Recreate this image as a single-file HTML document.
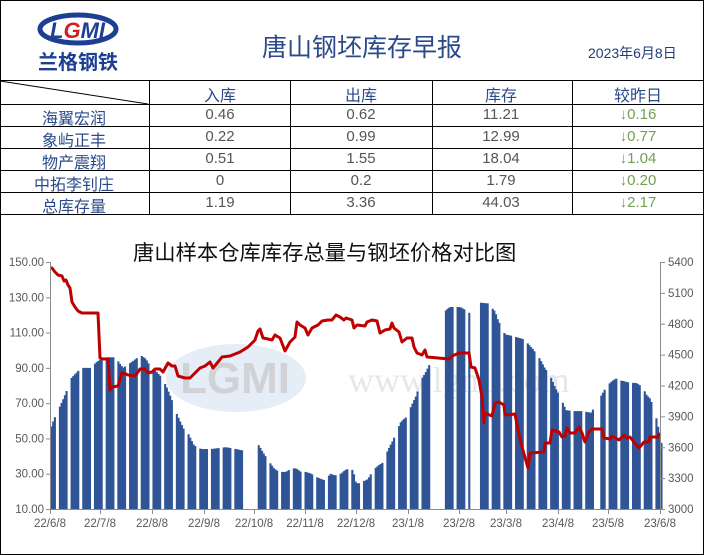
<!DOCTYPE html>
<html><head><meta charset="utf-8"><style>
body{margin:0;background:#fff;}
#w{position:relative;width:704px;height:555px;overflow:hidden;font-family:"Liberation Sans","Noto Sans CJK SC",sans-serif;}
.t{position:absolute;white-space:nowrap;}
</style></head><body><div id="w">
<svg width="704" height="555" style="position:absolute;left:0;top:0" xmlns="http://www.w3.org/2000/svg">
<rect x="0.5" y="0.5" width="703" height="554" fill="none" stroke="#000"/>
<g stroke="#000" stroke-width="1">
<line x1="0" y1="80.5" x2="704" y2="80.5"/>
<line x1="0" y1="104.5" x2="704" y2="104.5"/>
<line x1="0" y1="126.5" x2="704" y2="126.5"/>
<line x1="0" y1="148.5" x2="704" y2="148.5"/>
<line x1="0" y1="170.5" x2="704" y2="170.5"/>
<line x1="0" y1="192.5" x2="704" y2="192.5"/>
<line x1="0" y1="214.5" x2="704" y2="214.5"/>
<line x1="149.5" y1="80" x2="149.5" y2="214"/>
<line x1="290.5" y1="80" x2="290.5" y2="214"/>
<line x1="432.5" y1="80" x2="432.5" y2="214"/>
<line x1="572.5" y1="80" x2="572.5" y2="214"/>
<line x1="0" y1="81" x2="148" y2="104"/>
</g>
<ellipse cx="78" cy="29" rx="38" ry="14" fill="none" stroke="#1c3f94" stroke-width="5"/>
<text x="50" y="38" font-family="Liberation Sans" font-weight="bold" font-size="22" fill="#1c3f94" font-style="italic">L<tspan fill="#d02020">G</tspan>MI</text>
<ellipse cx="236" cy="378" rx="70" ry="34" fill="#d4e1f2" opacity="0.6"/>
<text x="180" y="393" font-family="Liberation Sans" font-weight="bold" font-size="44" fill="#c8c8c8" opacity="0.7">LGMI</text>
<text x="348" y="392" font-family="Liberation Serif" font-size="36" fill="#ddd" opacity="0.7">www.lgmi.com</text>
<g id="bars" fill="#2f5597"></g>
<polyline id="line" fill="none" stroke="#c00000" stroke-width="3" stroke-linejoin="round"/>
<g stroke="#8c8c8c" stroke-width="1">
<line x1="50.5" y1="262" x2="50.5" y2="509"/>
<line x1="660.5" y1="262" x2="660.5" y2="509"/>
<line x1="50" y1="509.5" x2="661" y2="509.5"/>
<g id="ticks"></g>
</g>
<g id="lbl" font-family="Liberation Sans" font-size="11.5" fill="#595959"></g>
</svg>
<div class="t" style="left:38px;top:46px;font-size:20px;font-weight:bold;color:#1c3f94;">兰格钢铁</div>
<div class="t" style="left:262px;top:28px;font-size:25px;color:#2a4a8a;">唐山钢坯库存早报</div>
<div class="t" style="left:588px;top:43px;font-size:14px;color:#1f3d7a;">2023年6月8日</div>
<div id="tb"></div>
<div class="t" style="left:133px;top:236px;font-size:21.3px;color:#111;">唐山样本仓库库存总量与钢坯价格对比图</div>
</div>
<script>
var rows=[["海翼宏润","0.46","0.62","11.21","0.16"],["象屿正丰","0.22","0.99","12.99","0.77"],["物产震翔","0.51","1.55","18.04","1.04"],["中拓李钊庄","0","0.2","1.79","0.20"],["总库存量","1.19","3.36","44.03","2.17"]];
var cx=[74,220,361,501,638],ys=[104,126,148,170,192],h='';
var hd=["入库","出库","库存","较昨日"];
for(var i=0;i<4;i++)h+='<div class="t" style="left:'+(cx[i+1]-50)+'px;width:100px;text-align:center;top:82px;font-size:16px;color:#2a4a8a">'+hd[i]+'</div>';
rows.forEach(function(r,j){
 h+='<div class="t" style="left:'+(cx[0]-60)+'px;width:120px;text-align:center;top:'+(ys[j]+1)+'px;font-size:16px;color:#2a4a8a">'+r[0]+'</div>';
 for(var i=1;i<4;i++)h+='<div class="t" style="left:'+(cx[i]-50)+'px;width:100px;text-align:center;top:'+(ys[j]+2)+'px;font-size:15px;color:#555">'+r[i]+'</div>';
 h+='<div class="t" style="left:'+(cx[4]-50)+'px;width:100px;text-align:center;top:'+(ys[j]+2)+'px;font-size:15px;color:#70a050">↓'+r[4]+'</div>';
});
document.getElementById('tb').innerHTML=h;
var inv=[[50,56],[53,61],[58,67],[62,72],[65,76],[70,84],[75,87],[80,90],[90,90],[95,93],[100,95],[105,96],[115,96],[118,93],[122,90],[130,93],[137,96],[140,97],[145,95],[150,90],[155,88],[160,85],[165,80],[170,73],[175,65],[178,61],[183,55],[187,53],[193,46],[200,44],[210,44],[225,45],[235,44],[243,43],[254,48],[258,46],[262,42],[268,37],[273,33],[278,31],[285,31],[290,33],[295,33],[300,31],[305,31],[310,30],[316,28],[320,27],[325,26],[329,30],[334,29],[340,30],[344,32],[348,33],[352,32],[355,24.6],[359,24.6],[362,25.5],[367,27],[372,32],[377,34.5],[382,36.4],[387,43.5],[392,49],[400,59.5],[405,62],[410,68],[415,74],[420,83],[425,87.8],[429,92.6],[445,122.8],[449,124.5],[459,124.5],[467,122],[475,117],[479,127],[487,126.5],[494,122],[497,117],[504,109],[512,108],[524,106],[525,105],[532,100.5],[539,95],[544,89.6],[549,86],[554,79],[560,72.6],[565,66],[572,65.5],[582,65.5],[590,64.5],[601,75],[605,79],[610,82],[615,84],[619,83],[629,81.5],[635,81.5],[642,79],[645,75],[649,72.6],[654,65.5],[659,51],[661,46]];
function iv(x){for(var i=1;i<inv.length;i++){if(x<=inv[i][0]){var a=inv[i-1],b=inv[i];return a[1]+(b[1]-a[1])*(x-a[0])/(b[0]-a[0]);}}return 46;}
var bh='';
for(var d=0;d<=365;d++){var wd=(3+d)%7;if(wd==0||wd==6)continue;var x=50.5+d*1.671;
 if((x>244&&x<254)||(x>430&&x<444)||(x>594&&x<600)||(x>469&&x<476))continue;
 var v=iv(x),y=262+(150-v)/140*247;bh+='<rect x="'+x.toFixed(2)+'" y="'+y.toFixed(1)+'" width="2.1" height="'+(509-y).toFixed(1)+'"/>';}
document.getElementById('bars').innerHTML=bh;
var ln="50,268 52,268 55,272 58,275 62,276 64,281 66,280 68,285 70,288 72,302 75,307 78,311 82,313 98,313 100,358 103,359 108,359 110,390 112,387 118,386 122,373 126,374 128,375 135,376 138,372 140,369 145,369 148,373 152,372 155,369 160,369 163,372 168,363 172,366 175,366 178,376 185,378 190,378 195,373 200,368 205,366 210,362 213,368 218,362 222,357 230,356 235,354 240,352 248,347 255,340 258,331 260,329 263,338 268,339 272,340 275,335 280,338 285,351 290,342 295,337 297,322 300,325 305,328 308,335 312,328 318,325 322,321 328,320 332,320 336,315 340,317 344,320 346,318 352,320 354,328 357,325 365,326 367,322 372,320 377,321 380,333 385,330 390,329 392,323 394,328 399,332 402,342 407,338 412,338 414,347 417,353 422,355 425,350 427,357 449,359 452,356 459,353 469,353 471,367 475,368 479,380 482,397 484,423 485,413 492,416 495,403 499,402 504,405 505,415 515,414 518,430 522,447 528,468 530,453 544,452 545,443 550,443 552,430 559,432 562,437 565,436 567,428 570,433 575,433 579,427 582,433 585,442 589,432 592,429 602,429 604,438 610,439 612,436 619,440 624,435 627,438 630,437 634,442 639,448 644,442 649,442 650,437 658,437 659,434 660,436";
document.getElementById('line').setAttribute('points',ln);
var t='',l='';
for(var i=0;i<8;i++){var y=262+i*247/7;t+='<line x1="46" y1="'+(y+.5)+'" x2="50" y2="'+(y+.5)+'"/>';
 l+='<text x="44" y="'+(y+4)+'" text-anchor="end">'+(150-i*20).toFixed(2)+'</text>';}
for(var i=0;i<9;i++){var y=262+i*247/8;t+='<line x1="661" y1="'+(y+.5)+'" x2="665" y2="'+(y+.5)+'"/>';
 l+='<text x="668" y="'+(y+4)+'">'+(5400-i*300)+'</text>';}
var xs=[[50,"22/6/8"],[100,"22/7/8"],[152,"22/8/8"],[204,"22/9/8"],[254,"22/10/8"],[305,"22/11/8"],[356,"22/12/8"],[408,"23/1/8"],[459,"23/2/8"],[506,"23/3/8"],[558,"23/4/8"],[608,"23/5/8"],[660,"23/6/8"]];
xs.forEach(function(p){t+='<line x1="'+(p[0]+.5)+'" y1="509" x2="'+(p[0]+.5)+'" y2="514"/>';l+='<text x="'+p[0]+'" y="527" text-anchor="middle">'+p[1]+'</text>';});
document.getElementById('ticks').innerHTML=t;document.getElementById('lbl').innerHTML=l;
</script></body></html>
